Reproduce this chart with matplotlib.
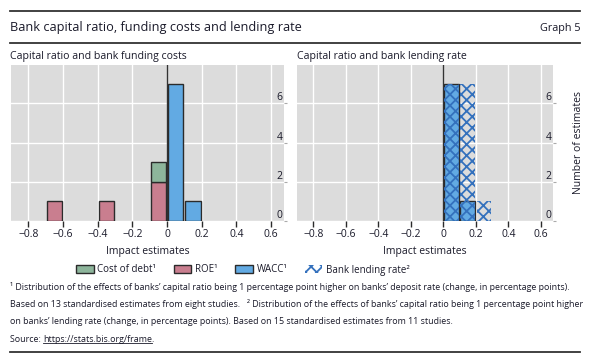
import matplotlib
matplotlib.use("Agg")
import matplotlib.pyplot as plt
from matplotlib.patches import Patch
from matplotlib.lines import Line2D

plt.rcParams["font.family"] = ["Open Sans", "DejaVu Sans"]
plt.rcParams["hatch.linewidth"] = 1.3

# Data (bin centres, width 0.1)
roe_x = [-0.65, -0.35, -0.05]
roe_n = [1, 1, 2]
debt_x = [-0.05]
debt_n = [1]
debt_base = [2]
wacc_x = [0.05, 0.15]
wacc_n = [7, 1]
lending_x = [0.05, 0.15, 0.25]
lending_n = [7, 7, 1]

xticks = [-0.8, -0.6, -0.4, -0.2, 0, 0.2, 0.4, 0.6]
xticklabels = ["\u22120.8", "\u22120.6", "\u22120.4", "\u22120.2", "0", "0.2", "0.4", "0.6"]
yticks = [0, 2, 4, 6]

c_debt = "#8db59b"
c_roe = "#c97e8f"
c_wacc = "#62aae3"
c_hatch = "#3471bd"
c_bg = "#dcdcdc"
c_edge = "#2b2b2b"
c_text = "#1a1a2a"

W, H = 589, 357
fig = plt.figure(figsize=(W / 100, H / 100), dpi=100)


def px(x0, y0, x1, y1):
    return [x0 / W, 1 - y1 / H, (x1 - x0) / W, (y1 - y0) / H]


ax1 = fig.add_axes(px(11, 65, 284, 221))
ax2 = fig.add_axes(px(297, 65, 553, 221))

for ax in (ax1, ax2):
    ax.set_facecolor(c_bg)
    for s in ax.spines.values():
        s.set_visible(False)
    ax.set_xlim(-0.9, 0.675)
    ax.set_ylim(0, 7.95)
    ax.set_xticks(xticks)
    ax.set_xticklabels(xticklabels)
    ax.set_yticks(yticks)
    ax.yaxis.tick_right()
    ax.tick_params(axis="x", length=4, width=1, color=c_edge, labelsize=7.5,
                   labelcolor=c_text, pad=2)
    ax.tick_params(axis="y", length=2, width=0.8, color="#aaaaaa", labelsize=7.5,
                   labelcolor=c_text, pad=-3)
    for lab in ax.get_yticklabels():
        lab.set_horizontalalignment("right")
        lab.set_verticalalignment("bottom")
    ax.grid(True, color="white", linewidth=1)
    ax.set_axisbelow(True)
    ax.axvline(0, color="#333333", linewidth=1, zorder=1)
    ax.set_xlabel("Impact estimates", fontsize=7.5, color=c_text, labelpad=4)

# Left panel
ax1.bar(roe_x, roe_n, width=0.09, color=c_roe, edgecolor=c_edge, linewidth=1, zorder=2)
ax1.bar(debt_x, debt_n, bottom=debt_base, width=0.09, color=c_debt, edgecolor=c_edge,
        linewidth=1, zorder=2)
ax1.bar(wacc_x, wacc_n, width=0.09, color=c_wacc, edgecolor=c_edge, linewidth=1, zorder=2)

# Right panel
ax2.bar(wacc_x, wacc_n, width=0.09, color=c_wacc, edgecolor=c_edge, linewidth=1, zorder=2)
ax2.bar(lending_x, lending_n, width=0.09, facecolor="none", edgecolor=c_hatch,
        linewidth=0, hatch="xxx", zorder=3)
ax2.text(1.1, 0.5, "Number of estimates", transform=ax2.transAxes, rotation=90,
         ha="center", va="center", fontsize=7.5, color=c_text)

# Titles and rules
fig.add_artist(Line2D([10 / W, 580 / W], [1 - 11 / H] * 2, color="#333333", lw=1.3))
fig.add_artist(Line2D([10 / W, 580 / W], [1 - 43 / H] * 2, color="#333333", lw=1.3))
fig.add_artist(Line2D([10 / W, 580 / W], [1 - 352 / H] * 2, color="#333333", lw=1.3))
fig.text(10 / W, 1 - 28 / H, "Bank capital ratio, funding costs and lending rate",
         fontsize=9.2, color=c_text, va="center")
fig.text(580 / W, 1 - 29 / H, "Graph 5", fontsize=7.8, color=c_text, va="center", ha="right")
fig.text(10 / W, 1 - 57 / H, "Capital ratio and bank funding costs", fontsize=7.6,
         color=c_text, va="center")
fig.text(297 / W, 1 - 57 / H, "Capital ratio and bank lending rate", fontsize=7.6,
         color=c_text, va="center")

# Legend
handles = [
    Patch(facecolor=c_debt, edgecolor=c_edge, linewidth=1),
    Patch(facecolor=c_roe, edgecolor=c_edge, linewidth=1),
    Patch(facecolor=c_wacc, edgecolor=c_edge, linewidth=1),
    Patch(facecolor="none", edgecolor=c_hatch, linewidth=0, hatch="xxx"),
]
labels = ["Cost of debt\u00b9", "ROE\u00b9", "WACC\u00b9", "Bank lending rate\u00b2"]
fig.legend(handles, labels, loc="center", bbox_to_anchor=(243 / W, 1 - 270 / H), ncol=4,
           frameon=False, fontsize=7, handlelength=1.8, handleheight=0.8,
           handletextpad=0.4, columnspacing=1.8, labelcolor=c_text)

# Footnotes
notes = [
    "\u00b9 Distribution of the effects of banks\u2019 capital ratio being 1 percentage point higher on banks\u2019 deposit rate (change, in percentage points).",
    "Based on 13 standardised estimates from eight studies.   \u00b2 Distribution of the effects of banks\u2019 capital ratio being 1 percentage point higher",
    "on banks\u2019 lending rate (change, in percentage points). Based on 15 standardised estimates from 11 studies.",
]
for i, line in enumerate(notes):
    fig.text(10 / W, 1 - (287 + 17 * i) / H, line, fontsize=6.4, color=c_text, va="center")

t_src = fig.text(10 / W, 1 - 339 / H, "Source: ", fontsize=6.4, color=c_text, va="center")
fig.canvas.draw()
r = fig.canvas.get_renderer()
bb = t_src.get_window_extent(r)
t_url = fig.text(bb.x1 / fig.bbox.width, 1 - 339 / H,
                 "https://stats.bis.org/frame", fontsize=6.4, color=c_text, va="center")
fig.canvas.draw()
bu = t_url.get_window_extent(r)
fig.add_artist(Line2D([bu.x0 / fig.bbox.width, bu.x1 / fig.bbox.width],
                      [(bu.y0 + 1) / fig.bbox.height] * 2, color=c_text, lw=0.6))
fig.text(bu.x1 / fig.bbox.width - 0.002, 1 - 339 / H, ".", fontsize=6.4, color=c_text,
         va="center")

fig.savefig("out.png", dpi=100)
